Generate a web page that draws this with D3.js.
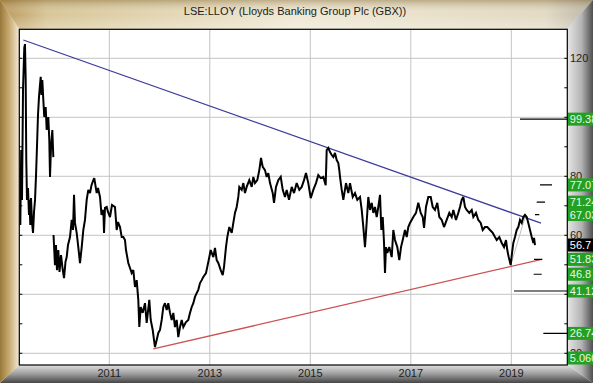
<!DOCTYPE html>
<html><head><meta charset="utf-8">
<script src="https://cdn.jsdelivr.net/npm/d3@7"></script>
<style>html,body{margin:0;padding:0;background:#fff;} svg{display:block;font-family:"Liberation Sans",Arial,sans-serif;}</style>
</head><body><svg id="c" width="593" height="383"></svg>
<script>
const title = "LSE:LLOY (Lloyds Banking Group Plc (GBX))";
// decimal-year dates and prices (GBX); null marks a data gap
const dates = [2009.229,2009.247,2009.263,2009.283,2009.308,2009.322,2009.336,2009.348,2009.362,2009.382,2009.402,2009.412,2009.428,2009.442,2009.462,2009.482,2009.502,2009.522,2009.542,2009.562,2009.581,2009.601,2009.621,2009.635,2009.651,2009.667,2009.687,2009.706,2009.734,2009.754,2009.786,2009.806,2009.820,2009.840,2009.866,2009.886,
2009.888,
2009.890,2009.919,2009.939,2009.959,2009.985,2010.009,2010.039,2010.069,2010.099,2010.128,2010.152,2010.178,2010.218,2010.252,2010.278,2010.298,2010.317,2010.351,2010.383,2010.417,2010.451,2010.483,2010.516,2010.550,2010.582,2010.616,2010.646,2010.682,2010.701,2010.749,2010.775,2010.815,2010.845,2010.881,2010.895,2010.914,2010.948,2010.974,
2011.014,2011.054,2011.113,2011.147,2011.173,2011.213,2011.247,2011.279,2011.312,2011.332,2011.378,2011.412,2011.446,2011.478,2011.511,2011.545,2011.577,2011.597,2011.625,2011.665,2011.710,2011.744,2011.796,2011.824,2011.864,2011.890,2011.909,2011.943,2011.975,
2012.009,2012.043,2012.075,2012.108,2012.142,2012.174,2012.208,2012.242,2012.274,2012.307,2012.341,2012.373,2012.407,2012.441,2012.473,2012.526,2012.572,2012.606,2012.640,2012.672,2012.705,2012.739,2012.771,2012.805,2012.839,2012.871,2012.924,2012.950,2012.990,
2013.018,2013.070,2013.103,2013.137,2013.169,2013.217,2013.257,2013.283,2013.322,2013.348,2013.388,2013.436,2013.468,2013.501,2013.535,2013.567,2013.587,2013.635,2013.667,2013.700,2013.734,2013.786,2013.834,2013.866,2013.899,2013.945,2013.985,
2014.019,2014.053,2014.098,2014.132,2014.164,2014.198,2014.252,2014.278,2014.317,2014.363,2014.411,2014.451,2014.496,2014.530,2014.576,2014.630,2014.676,2014.729,2014.781,2014.829,2014.875,2014.914,2014.960,
2015.008,2015.060,2015.113,2015.159,2015.207,2015.259,2015.306,2015.326,2015.358,2015.392,2015.426,2015.458,2015.491,2015.525,2015.557,2015.577,2015.591,2015.625,2015.657,2015.710,2015.756,2015.790,2015.844,2015.889,2015.935,2015.989,
2016.023,2016.055,2016.088,2016.108,2016.154,2016.188,2016.222,2016.254,2016.287,2016.321,2016.353,2016.387,2016.413,2016.441,2016.467,2016.486,2016.506,2016.532,2016.572,2016.620,2016.652,2016.685,2016.731,2016.771,2016.805,2016.839,2016.884,2016.918,2016.950,2016.984,
2017.050,2017.103,2017.149,2017.197,2017.237,2017.263,2017.302,2017.348,2017.396,2017.436,2017.481,2017.527,2017.567,2017.615,2017.661,2017.714,2017.766,2017.814,2017.846,2017.899,2017.945,2017.979,
2018.013,2018.045,2018.078,2018.112,2018.164,2018.212,2018.244,2018.297,2018.343,2018.391,2018.431,2018.476,2018.522,2018.576,2018.630,2018.675,2018.709,2018.761,2018.809,2018.855,2018.894,2018.920,2018.948,2018.988,
2019.014,2019.040,2019.073,2019.107,2019.139,2019.173,2019.207,2019.239,2019.272,2019.306,2019.338,2019.372,2019.406,2019.438,2019.452,2019.471];
const prices = [63.5,88.9,72.0,109.3,123.5,124.8,112.6,85.5,72.0,76.0,66.9,72.0,63.5,72.6,64.5,60.8,67.9,72.0,80.4,90.6,100.8,106.9,111.0,113.7,107.6,112.6,105.9,100.1,103.5,95.7,100.1,92.3,79.8,89.9,95.7,86.5,
null,
60.1,49.9,56.7,48.2,55.0,47.6,53.3,48.9,45.5,51.0,52.6,56.7,59.4,65.2,61.8,73.7,64.2,60.8,56.0,50.6,56.0,61.8,65.2,72.0,75.4,74.3,77.0,78.7,79.4,74.3,76.0,73.0,66.9,68.6,60.8,69.3,69.6,67.9,
66.2,70.3,69.6,61.8,64.5,62.8,59.4,59.4,58.4,55.0,50.6,48.9,47.2,48.2,42.5,44.8,38.1,28.9,35.7,33.7,37.0,30.3,38.1,31.3,27.9,24.5,22.1,24.5,26.9,
27.9,31.3,35.7,37.0,34.7,37.0,33.7,31.3,33.7,28.9,31.3,25.5,28.9,31.3,28.9,30.6,31.3,33.7,35.7,37.0,39.1,40.4,41.5,43.8,44.8,45.9,47.2,49.3,52.6,
55.0,52.6,55.7,51.6,50.6,48.2,46.5,49.3,56.0,59.4,62.8,60.8,64.2,67.6,69.6,73.0,76.4,75.4,77.7,74.3,76.4,78.7,76.4,79.8,77.7,78.7,82.1,
86.2,83.2,82.1,79.8,81.1,77.7,74.3,71.0,76.4,78.7,79.8,75.4,73.0,75.4,72.0,76.4,74.3,77.7,75.4,76.4,78.7,81.1,77.7,
72.6,75.4,77.7,80.4,79.4,79.8,77.0,88.9,89.6,88.2,87.2,86.5,87.9,85.5,84.5,82.1,79.8,75.4,72.0,77.7,74.3,77.7,73.0,74.3,72.0,73.0,
68.6,62.8,56.0,60.8,73.0,68.6,71.0,67.6,69.6,66.2,69.6,73.7,61.8,66.2,57.4,47.2,56.0,54.0,56.0,52.6,61.8,58.4,56.0,51.6,56.0,58.4,61.8,59.4,62.8,64.2,
66.2,67.6,71.0,67.6,66.2,62.5,69.6,73.0,73.0,69.6,68.6,71.0,66.2,65.2,62.8,65.2,67.6,66.2,68.6,65.2,67.6,69.6,
72.0,73.0,69.6,68.6,67.6,68.6,66.2,67.6,65.2,64.2,61.8,62.8,62.8,61.8,60.8,59.4,58.4,59.4,57.4,56.0,58.4,55.0,52.6,49.9,
54.0,57.4,59.4,61.8,62.8,65.2,64.2,66.2,66.9,66.2,64.2,61.8,59.4,57.4,59.1,56.7];

const yGridTicks = [20,40,60,80,100,120];
const yTickLabels = [20,60,80,120]; // 40 and 100 are hidden under value boxes
const yTickMarks = [20,30,40,50,60,70,80,90,100,110,120];
const xTicks = [2011,2013,2015,2017,2019];

const blueTrendDates = [2009.289, 2019.591];
const blueTrendValues = [126.2, 64.1];
const redTrendDates = [2011.876, 2019.605];
const redTrendValues = [21.5, 51.83];
const greyTrendDates = [2018.988, 2019.280];
const greyTrendValues = [49.9, 66.5];

const targetValues = [99.38, 77.07, 71.24, 67.03, 51.83, 46.8, 41.12, 26.74];
const targetFrom   = [2019.173, 2019.570, 2019.505, 2019.471, 2019.451, 2019.445, 2019.054, 2019.637];
const targetTo     = [null, 2019.810, 2019.670, 2019.557, 2019.617, 2019.605, null, null];

const labelValues = [99.38, 77.07, 71.24, 67.03, 56.7, 51.83, 46.8, 41.12, 26.74, 5.06];
const labelTexts  = ["99.38","77.07","71.24","67.03","56.7","51.83","46.8","41.12","26.74","5.060"];
const lastPrice = 56.7;

const W = 593, H = 383;
const L = 19.3, R = 567.3, T = 29.3, B = 365;
const svg = d3.select("#c");
const defs = svg.append("defs");

function grad(id, x1,y1,x2,y2, stops){
  const g = defs.append("linearGradient").attr("id",id)
    .attr("x1",x1).attr("y1",y1).attr("x2",x2).attr("y2",y2);
  stops.forEach(s=>g.append("stop").attr("offset",s[0]).attr("stop-color",s[1]));
}
grad("gTop","0","0","1","0",[[0,"#b9975a"],[0.08,"#d8c698"],[0.5,"#efe8d3"],[0.92,"#e2dac3"],[1,"#b8b3a6"]]);
grad("gTopV","0","0","0","1",[[0,"rgba(120,90,30,0.4)"],[0.5,"rgba(255,255,255,0)"],[1,"rgba(255,255,255,0.3)"]]);
grad("gLeft","0","0","1","0",[[0,"#9a773a"],[0.5,"#c9ad74"],[1,"#f3ecd8"]]);
grad("gBottom","0","0","0","1",[[0,"#e0e0e0"],[0.5,"#9c9c9c"],[1,"#464646"]]);
grad("gRight","0","0","1","0",[[0,"#e6e6e6"],[0.55,"#b4b4b4"],[1,"#4e4e4e"]]);

svg.append("rect").attr("width",W).attr("height",H).attr("fill","#ddd");
svg.append("polygon").attr("points",`0,0 ${W},0 ${R},${T} ${L},${T}`).attr("fill","url(#gTop)");
svg.append("polygon").attr("points",`0,0 ${W},0 ${R},${T} ${L},${T}`).attr("fill","url(#gTopV)");
svg.append("polygon").attr("points",`0,${H} ${L},${B} ${R},${B} ${W},${H}`).attr("fill","url(#gBottom)");
svg.append("polygon").attr("points",`${W},0 ${R},${T} ${R},${B} ${W},${H}`).attr("fill","url(#gRight)");
svg.append("polygon").attr("points",`0,0 ${L},${T} ${L},${B} 0,${H}`).attr("fill","url(#gLeft)");

svg.append("rect").attr("x",L).attr("y",T).attr("width",R-L).attr("height",B-T).attr("fill","#fff");

const x = d3.scaleLinear().domain([2009.209, 2020.114]).range([L, R]);
const y = d3.scaleLinear().domain([16.03, 129.83]).range([B, T]);

defs.append("clipPath").attr("id","plot").append("rect")
  .attr("x",L).attr("y",T).attr("width",R-L).attr("height",B-T);

// grid
const grid = svg.append("g");
grid.selectAll("line.h").data(yGridTicks).join("line")
  .attr("x1",L).attr("x2",R).attr("y1",d=>y(d)).attr("y2",d=>y(d))
  .attr("stroke","#c4c4c4").attr("stroke-width",1);
grid.selectAll("line.v").data(xTicks).join("line")
  .attr("x1",d=>x(d)).attr("x2",d=>x(d)).attr("y1",T).attr("y2",B)
  .attr("stroke","#c4c4c4").attr("stroke-width",1);

// inward tick marks left & right
svg.append("g").selectAll("line").data(yTickMarks).join("line")
  .attr("x1",L).attr("x2",L+3).attr("y1",d=>y(d)).attr("y2",d=>y(d))
  .attr("stroke","#000");
svg.append("g").selectAll("line").data(yTickMarks).join("line")
  .attr("x1",R-3).attr("x2",R).attr("y1",d=>y(d)).attr("y2",d=>y(d))
  .attr("stroke","#000");

const plot = svg.append("g").attr("clip-path","url(#plot)");
const seg = (ds, vs) => ds.map((d,i)=>[x(d), y(vs[i])]);

plot.append("path").attr("d", d3.line()(seg(blueTrendDates, blueTrendValues)))
  .attr("stroke","#3c3c9c").attr("stroke-width",1.3).attr("fill","none");
plot.append("path").attr("d", d3.line()(seg(redTrendDates, redTrendValues)))
  .attr("stroke","#cc5050").attr("stroke-width",1.3).attr("fill","none");
plot.append("path").attr("d", d3.line()(seg(greyTrendDates, greyTrendValues)))
  .attr("stroke","#bdbdbd").attr("stroke-width",1).attr("fill","none");

const pts = dates.map((d,i)=>({d, v: prices[i]}));
plot.append("path").datum(pts)
  .attr("d", d3.line().defined(p=>p.v!=null).x(p=>x(p.d)).y(p=>y(p.v)))
  .attr("stroke","#000").attr("stroke-width",2).attr("fill","none")
  .attr("stroke-linejoin","miter").attr("stroke-miterlimit",3);

// target lines
plot.selectAll("line.t").data(targetValues).join("line")
  .attr("x1",(d,i)=>x(targetFrom[i]))
  .attr("x2",(d,i)=>targetTo[i]==null ? R : x(targetTo[i]))
  .attr("y1",d=>y(d)).attr("y2",d=>y(d))
  .attr("stroke","#000").attr("stroke-width",1.2);

// border
svg.append("rect").attr("x",L).attr("y",T).attr("width",R-L).attr("height",B-T)
  .attr("fill","none").attr("stroke","#000").attr("stroke-width",1.2);

// title
svg.append("text").attr("x",295).attr("y",15).attr("text-anchor","middle")
  .attr("font-size",11).attr("fill","#222").text(title);

// x labels
svg.append("g").selectAll("text").data(xTicks).join("text")
  .attr("x",d=>x(d)).attr("y",377).attr("text-anchor","middle")
  .attr("font-size",11).attr("fill","#222").text(d=>d);

// right tick labels
svg.append("g").selectAll("text").data(yTickLabels).join("text")
  .attr("x",570).attr("y",d=>y(d)+4).attr("font-size",11).attr("fill","#222").text(d=>d);

// right value boxes
const lab = svg.append("g");
labelValues.forEach((v,i)=>{
  const cy = Math.min(y(v), B-7);
  const isLast = v === lastPrice;
  lab.append("rect").attr("x",R+0.7).attr("y",cy-6.5).attr("width",W-R).attr("height",13)
    .attr("fill", isLast ? "#000" : "#23a023");
  lab.append("text").attr("x",R+2.5).attr("y",cy+4).attr("font-size",11)
    .attr("fill", isLast ? "#fff" : "#e6f8e6").text(labelTexts[i]);
});
</script></body></html>
